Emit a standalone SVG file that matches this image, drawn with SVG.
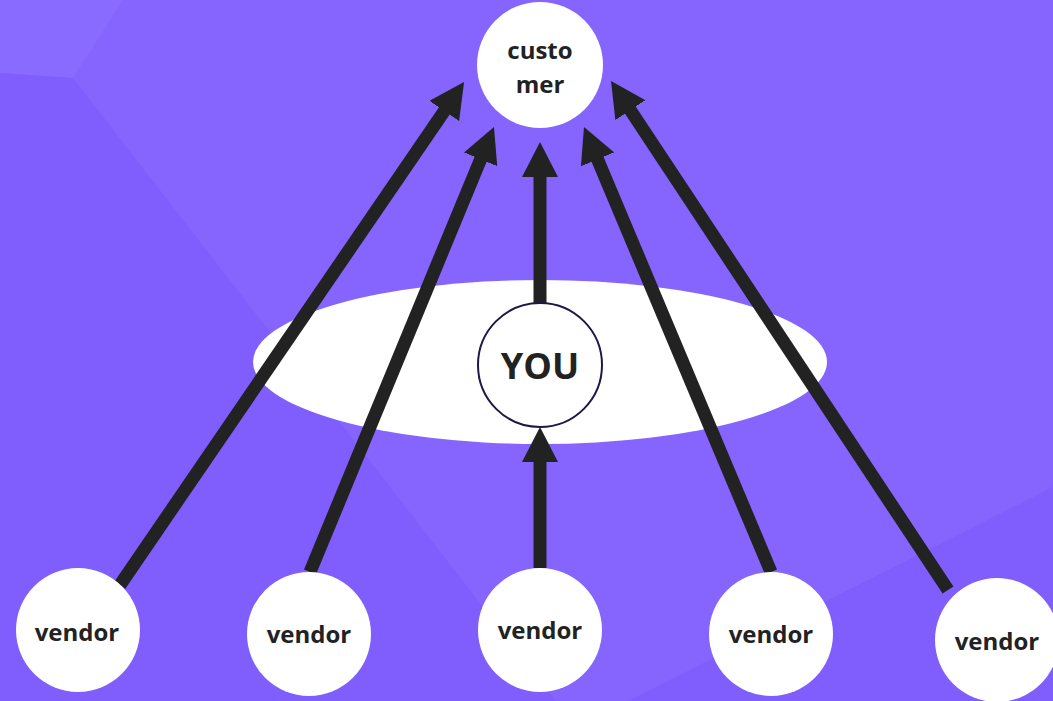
<svg xmlns="http://www.w3.org/2000/svg" width="1053" height="701" viewBox="0 0 1053 701">
  <defs>
    <style>
      .node { fill: #ffffff; }
      .lbl { font-family: "Open Sans", "Noto Sans", "Liberation Sans", sans-serif; font-weight: 700; fill: #222222; text-anchor: middle; }
      .conn { stroke: #222222; stroke-width: 13; fill: none; marker-end: url(#arrow); }
    </style>
    <marker id="arrow" markerUnits="userSpaceOnUse" markerWidth="36" markerHeight="36" refX="5" refY="18" orient="auto" viewBox="0 0 36 36">
      <path d="M0,0 L35,18 L0,36 z" fill="#222222"/>
    </marker>
  </defs>

  <g id="background">
    <rect x="0" y="0" width="1053" height="701" fill="#8565fe"/>
    <polygon points="0,0 123,0 73,78 0,73" fill="#8a6bff"/>
    <polygon points="0,73 73,78 556,701 0,701" fill="#805efd"/>
    <polygon points="628,701 1053,487 1053,701" fill="#805efd"/>
  </g>

  <g id="ellipse">
    <ellipse cx="540" cy="362" rx="287" ry="82" fill="#ffffff"/>
  </g>

  <g id="connectors">
    <line class="conn" x1="120" y1="585" x2="447.1" y2="106.8"/>
    <line class="conn" x1="310" y1="572" x2="482.5" y2="154.7"/>
    <line class="conn" x1="540" y1="303" x2="540" y2="172"/>
    <line class="conn" x1="771" y1="572" x2="595.6" y2="154.7"/>
    <line class="conn" x1="948" y1="590" x2="627.6" y2="106"/>
    <line class="conn" x1="540" y1="568" x2="540" y2="457"/>
  </g>

  <g id="customer">
    <circle class="node" cx="540" cy="65" r="63"/>
    <text class="lbl" x="540" y="59" font-size="24">custo</text>
    <text class="lbl" x="540" y="93" font-size="24">mer</text>
  </g>

  <g id="you">
    <circle cx="540" cy="365" r="62" fill="#ffffff" stroke="#1e1748" stroke-width="2"/>
    <text class="lbl" x="540" y="379" font-size="36">YOU</text>
  </g>

  <g id="vendor1">
    <circle class="node" cx="78" cy="630" r="62"/>
    <text class="lbl" x="77" y="641" font-size="24">vendor</text>
  </g>
  <g id="vendor2">
    <circle class="node" cx="309" cy="634" r="62"/>
    <text class="lbl" x="309" y="643" font-size="24">vendor</text>
  </g>
  <g id="vendor3">
    <circle class="node" cx="540" cy="630" r="62"/>
    <text class="lbl" x="540" y="639" font-size="24">vendor</text>
  </g>
  <g id="vendor4">
    <circle class="node" cx="771" cy="634" r="62"/>
    <text class="lbl" x="771" y="643" font-size="24">vendor</text>
  </g>
  <g id="vendor5">
    <circle class="node" cx="997" cy="640" r="62"/>
    <text class="lbl" x="997" y="650" font-size="24">vendor</text>
  </g>
</svg>
